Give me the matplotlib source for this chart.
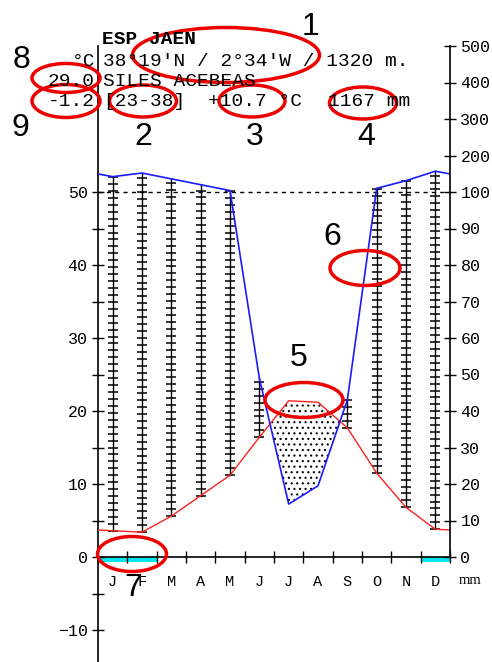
import matplotlib
matplotlib.use("Agg")
import matplotlib.pyplot as plt
from matplotlib.patches import Ellipse
import numpy as np

plt.rcParams['font.family'] = ['Liberation Mono', 'DejaVu Sans Mono']
plt.rcParams['hatch.linewidth'] = 0.8

# datos del climodiagrama
months = ['J', 'F', 'M', 'A', 'M', 'J', 'J', 'A', 'S', 'O', 'N', 'D']
temp = np.array([3.6, 3.4, 5.6, 8.4, 11.2, 16.4, 21.4, 21.2, 17.7, 11.5, 6.8, 3.8])
prec = np.array([142, 152, 136, 120, 104, 49, 14.5, 19.5, 43, 110, 131, 157])
frost = np.array([1, 1, 0, 0, 0, 0, 0, 0, 0, 0, 0, 1])
mm_ticks = [0, 10, 20, 30, 40, 50, 60, 70, 80, 90, 100, 200, 300, 400, 500]

station = "ESP JAEN"
coords = "38°19'N / 2°34'W / 1320 m."
place = "SILES ACEBEAS"
t_max_abs = "29.0"
t_min_abs = "-1.2"
years = "[23-38]"
t_mean = "+10.7 °C"
p_total = "1167 mm"


def p2t(p):
    # escala Walter-Lieth: 20 mm = 10 C hasta 100 mm, luego 1/10
    p = np.asarray(p, dtype=float)
    return np.where(p <= 100, p / 2.0, 50 + (p - 100) / 20.0)


W, H = 492, 662
fig = plt.figure(figsize=(W / 100, H / 100), dpi=100)

# eje principal: x=98..450 px, 0 C en y=557 px, 7.3 px por grado
x0, x1, y0, k = 98, 450, 557, 7.3
ax = fig.add_axes([x0 / W, 0, (x1 - x0) / W, 1])
ax.set_xlim(0, 12)
ax.set_ylim((y0 - H) / k, y0 / k)

xc = np.arange(12) + 0.5
xl = np.concatenate([[0], xc, [12]])
tl = np.concatenate([[(temp[0] + temp[-1]) / 2], temp, [(temp[0] + temp[-1]) / 2]])
pl = p2t(np.concatenate([[(prec[0] + prec[-1]) / 2], prec, [(prec[0] + prec[-1]) / 2]]))

# periodo humedo: lineas verticales con marcas
for i in range(12):
    pt = float(p2t(prec[i]))
    if pt > temp[i]:
        ax.plot([xc[i], xc[i]], [temp[i], pt], color='black', lw=1, zorder=2)
        ys = np.arange(temp[i], pt, 0.95)
        ax.plot(np.full_like(ys, xc[i]), ys, ls='none', marker='_',
                ms=6.5, mew=1.1, color='black', zorder=2)

# periodo seco: punteado
xf = np.linspace(0, 12, 1201)
tf = np.interp(xf, xl, tl)
pf = np.interp(xf, xl, pl)
ax.fill_between(xf, pf, tf, where=tf > pf, facecolor='none', edgecolor='black',
                hatch='...', lw=0, zorder=1)

ax.axhline(50, color='black', lw=1, dashes=(3, 3), zorder=1)
ax.plot(xl, tl, color='#ff2020', lw=1, zorder=3)
ax.plot(xl, pl, color='#1a1aff', lw=1.2, zorder=3)

# meses con helada
ax.bar(xc[frost == 1], -0.75, width=1, bottom=0, color='#00e5ee', zorder=1)

for s in ['top', 'right']:
    ax.spines[s].set_visible(False)
ax.spines['left'].set_bounds(ax.get_ylim()[0], 70)
ax.spines['bottom'].set_position(('data', 0))
ax.set_xticks(np.arange(13))
ax.set_xticklabels([])
ax.set_xticks(xc, minor=True)
ax.set_xticklabels(months, minor=True, fontsize=11)
ax.tick_params(axis='x', which='major', direction='inout', length=9, width=1)
ax.tick_params(axis='x', which='minor', length=0, pad=13)
ax.set_yticks(np.arange(-10, 51, 10))
ax.set_yticks(np.arange(-5, 50, 10), minor=True)
ax.tick_params(axis='y', which='both', direction='inout', length=9, width=1,
               labelsize=12, pad=3)
for s in ax.spines.values():
    s.set_linewidth(1.2)

ax2 = ax.twinx()
ax2.set_ylim(ax.get_ylim())
for s in ['top', 'left', 'bottom']:
    ax2.spines[s].set_visible(False)
ax2.spines['right'].set_bounds(0, 70)
ax2.spines['right'].set_linewidth(1.2)
ax2.set_yticks(p2t(mm_ticks))
ax2.set_yticklabels([str(v) for v in mm_ticks])
ax2.tick_params(axis='y', direction='inout', length=9, width=1, labelsize=12, pad=3)

# capa de anotaciones en pixeles
ov = fig.add_axes([0, 0, 1, 1], facecolor='none')
ov.set_xlim(0, W)
ov.set_ylim(H, 0)
ov.axis('off')

fs = 14
ov.text(102, 40, station, fontsize=fs, fontweight='bold', va='center')
ov.text(95, 61, "°C", fontsize=fs, va='center', ha='right')
ov.text(103, 61, coords, fontsize=fs, va='center')
ov.text(95, 81, t_max_abs, fontsize=fs, va='center', ha='right')
ov.text(103, 81, place, fontsize=fs, va='center')
ov.text(95, 101, t_min_abs, fontsize=fs, va='center', ha='right')
ov.text(103, 101, years, fontsize=fs, va='center')
ov.text(208, 101, t_mean, fontsize=fs, va='center')
ov.text(328, 101, p_total, fontsize=fs, va='center')
ov.text(459, 580, "mm", fontsize=10.5, va='center', family=['Liberation Serif'])

# elipses rojas y numeros
ells = [(226, 55, 187, 55), (66, 78, 68, 29), (66, 101, 68, 33), (143, 101, 67, 32),
        (252, 101, 66, 32), (363, 103, 67, 32), (304, 400, 78, 35),
        (365, 268, 70, 35), (132, 554, 69, 35)]
for cx, cy, w, h in ells:
    ov.add_patch(Ellipse((cx, cy), w, h, fill=False, edgecolor='#ee0000', lw=2.5))

nums = [('1', 310, 27), ('8', 21, 60), ('9', 20, 128), ('2', 143, 137), ('3', 255, 137),
        ('4', 366, 137), ('5', 299, 358), ('6', 332, 237), ('7', 133, 588)]
for n, nx, ny in nums:
    ov.text(nx, ny, n, fontsize=23, ha='center', va='center',
            family=['Liberation Sans', 'DejaVu Sans'])

fig.savefig('out.png', dpi=100)
